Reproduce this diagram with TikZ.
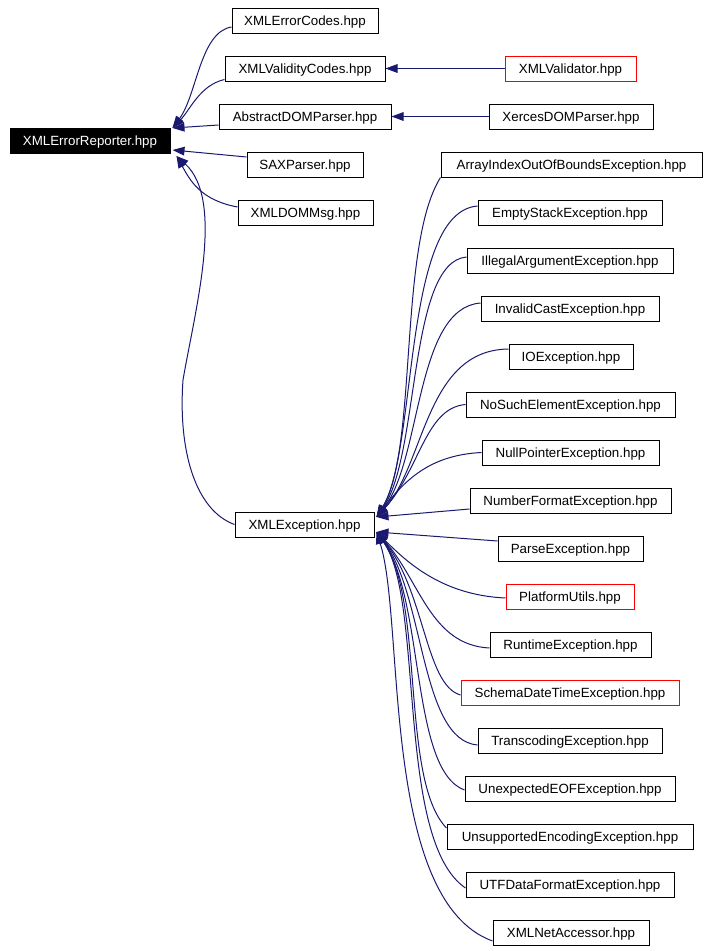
\documentclass[tikz,border=0pt]{standalone}
\usepackage{fontspec}
\setmainfont{Liberation Sans}
\usetikzlibrary{arrows.meta,calc}
\definecolor{edgeblue}{HTML}{191970}
\definecolor{boxred}{HTML}{FF0000}
\tikzset{
 box/.style={draw=black, line width=0.75pt, minimum height=18.75pt, inner sep=0pt, text height=7.2pt, text depth=0pt, font=\fontsize{10pt}{12pt}\selectfont, anchor=center},
 redbox/.style={box, draw=boxred},
 rootbox/.style={box, fill=black, text=white},
 edge/.style={draw=edgeblue, line width=0.75pt, -{Triangle[length=9pt,width=6.5pt]}},
}
\newcommand{\bx}[6][box]{\node[#1, minimum width={(#4-#3)*0.75pt}] (#2) at ({(#3+#4)/2},#5) {#6};}
\begin{document}
\begin{tikzpicture}[x=0.75pt,y=-0.75pt]
\useasboundingbox (0,0) rectangle (708,951);
% left part
\bx[rootbox]{rep}{10}{170}{141}{XMLErrorReporter.hpp}
\bx{codes}{232}{378}{20.5}{XMLErrorCodes.hpp}
\bx{valid}{225}{385}{68.5}{XMLValidityCodes.hpp}
\bx{absdom}{219}{391}{116.5}{AbstractDOMParser.hpp}
\bx{sax}{247}{363}{164.5}{SAXParser.hpp}
\bx{dommsg}{238}{373}{212.5}{XMLDOMMsg.hpp}
\bx{xe}{235}{374}{524.5}{XMLException.hpp}
\bx[redbox]{validator}{505}{636}{68.5}{XMLValidator.hpp}
\bx{xercesdom}{489}{653}{116.5}{XercesDOMParser.hpp}
% right column
\bx{ai}{441}{702}{164.5}{ArrayIndexOutOfBoundsException.hpp}
\bx{es}{478}{662}{212.5}{EmptyStackException.hpp}
\bx{ia}{467}{673}{260.5}{IllegalArgumentException.hpp}
\bx{ic}{481}{659}{308.5}{InvalidCastException.hpp}
\bx{io}{509}{633}{356.5}{IOException.hpp}
\bx{ns}{466}{675}{404.5}{NoSuchElementException.hpp}
\bx{np}{482}{659}{452.5}{NullPointerException.hpp}
\bx{nf}{470}{671}{500.5}{NumberFormatException.hpp}
\bx{pe}{498}{643}{548.5}{ParseException.hpp}
\bx[redbox]{pu}{506}{634}{596.5}{PlatformUtils.hpp}
\bx{re}{490}{651}{644.5}{RuntimeException.hpp}
\bx[redbox]{sd}{461}{679}{692.5}{SchemaDateTimeException.hpp}
\bx{tc}{478}{662}{740.5}{TranscodingException.hpp}
\bx{ue}{465}{675}{788.5}{UnexpectedEOFException.hpp}
\bx{us}{447}{693}{836.5}{UnsupportedEncodingException.hpp}
\bx{utf}{466}{674}{884.5}{UTFDataFormatException.hpp}
\bx{na}{493}{649}{932.5}{XMLNetAccessor.hpp}
% edges into XMLErrorReporter
\draw[edge] ($(codes.west)+(0,6.5)$) .. controls (200,32) and (197,95) .. ($(rep.east)+(2,-13)$);
\draw[edge] ($(valid.west)+(0,11)$) .. controls (200,85) and (190,110) .. ($(rep.east)+(2,-13)$);
\draw[edge] ($(absdom.west)+(0,8.5)$) -- ($(rep.east)+(2,-13)$);
\draw[edge] ($(sax.west)+(0,-7.5)$) -- ($(rep.east)+(2,9)$);
\draw[edge] ($(dommsg.west)+(0,-5.5)$) .. controls (200,200) and (190,180) .. ($(rep.east)+(6,15)$);
\draw[edge] (xe.west) .. controls (195,510) and (178,450) .. (183,380) .. controls (195,310) and (225,200) .. ($(rep.east)+(6,15)$);
% straight edges
\draw[edge] (validator.west) -- (valid.east);
\draw[edge] (xercesdom.west) -- (absdom.east);
% upper fan into XMLException
\draw[edge] (ai.south west) .. controls (398,245) and (418,450) .. ($(xe.east)+(2,-7.5)$);
\draw[edge] ($(es.west)+(0,-6.5)$) .. controls (402,212) and (418,450) .. ($(xe.east)+(2,-7.5)$);
\draw[edge] ($(ia.west)+(0,-3.5)$) .. controls (408,262) and (420,455) .. ($(xe.east)+(2,-7.5)$);
\draw[edge] ($(ic.west)+(0,-5.5)$) .. controls (415,308) and (422,460) .. ($(xe.east)+(2,-7.5)$);
\draw[edge] ($(io.west)+(0,-7.5)$) .. controls (425,350) and (425,465) .. ($(xe.east)+(2,-7.5)$);
\draw[edge] (ns.west) .. controls (425,408) and (420,470) .. ($(xe.east)+(2,-7.5)$);
\draw[edge] (np.west) .. controls (430,455) and (405,480) .. ($(xe.east)+(2,-7.5)$);
\draw[edge] ($(nf.west)+(0,8.5)$) -- ($(xe.east)+(2,-7.5)$);
% lower fan into XMLException
\draw[edge] ($(pe.west)+(0,-7.5)$) -- ($(xe.east)+(2,7.5)$);
\draw[edge] ($(pu.west)+(0,1.5)$) .. controls (440,595) and (405,560) .. ($(xe.east)+(2,7.5)$);
\draw[edge] ($(re.west)+(0,3.5)$) .. controls (430,645) and (420,580) .. ($(xe.east)+(2,7.5)$);
\draw[edge] ($(sd.west)+(0,2.5)$) .. controls (425,685) and (425,590) .. ($(xe.east)+(2,7.5)$);
\draw[edge] ($(tc.west)+(0,4.5)$) .. controls (420,740) and (425,595) .. ($(xe.east)+(2,7.5)$);
\draw[edge] ($(ue.west)+(0,1.5)$) .. controls (410,770) and (425,600) .. ($(xe.east)+(2,7.5)$);
\draw[edge] ($(us.west)+(0,-8.5)$) .. controls (400,780) and (425,600) .. ($(xe.east)+(2,7.5)$);
\draw[edge] ($(utf.west)+(0,3.5)$) .. controls (395,840) and (425,600) .. ($(xe.east)+(2,7.5)$);
\draw[edge] ($(na.west)+(0,8.5)$) .. controls (380,900) and (405,620) .. ($(xe.east)+(2,7.5)$);
\end{tikzpicture}
\end{document}
